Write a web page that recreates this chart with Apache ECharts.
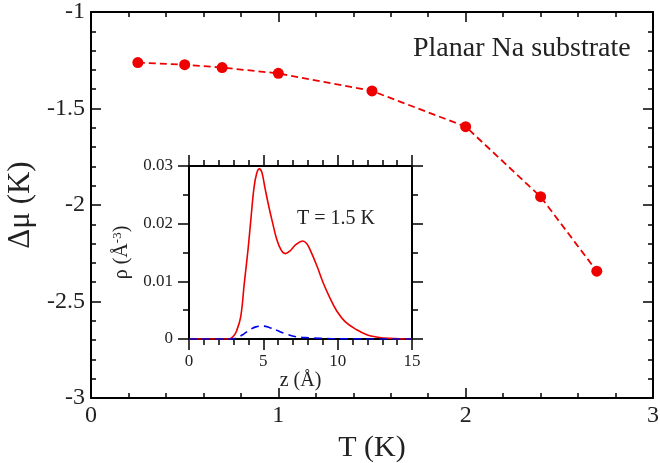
<!DOCTYPE html>
<html>
<head>
<meta charset="utf-8">
<script src="https://cdn.jsdelivr.net/npm/echarts@6/dist/echarts.min.js"></script>
<style>html,body{margin:0;padding:0;background:#fff}#c{width:660px;height:463px}</style>
</head>
<body>
<div id="c"></div>
<script>
// Main panel: chemical potential shift vs temperature
const temperatures = [0.25, 0.5, 0.7, 1.0, 1.5, 2.0, 2.4, 2.7];
const deltaMu = [-1.262, -1.273, -1.288, -1.318, -1.409, -1.594, -1.957, -2.343];

// Inset: density profiles at T = 1.5 K
const zRed = [0, 2.5, 2.8, 3.0, 3.2, 3.48, 3.72, 3.97, 4.15, 4.37, 4.55, 4.73, 4.9, 5.11, 5.35, 5.6, 5.9, 6.2, 6.48, 6.8, 7.2, 7.65, 7.9, 8.14, 8.6, 9.03, 9.5, 9.93, 10.5, 11.28, 12.0, 12.6, 13.5, 15];
const rhoRed = [0, 0, 0.0001, 0.0005, 0.0014, 0.0039, 0.0097, 0.0155, 0.0204, 0.0262, 0.0287, 0.0295, 0.0289, 0.0262, 0.0232, 0.0204, 0.0173, 0.0154, 0.0148, 0.0153, 0.0164, 0.0170, 0.0166, 0.0155, 0.0127, 0.0097, 0.0070, 0.0049, 0.0030, 0.0016, 0.0007, 0.00035, 0.0001, 0];
const zBlue = [0, 2.9, 3.3, 3.7, 4.1, 4.5, 4.95, 5.4, 5.9, 6.5, 7.2, 8.1, 9.0, 10.0, 15];
const rhoBlue = [0, 0, 0.0003, 0.0009, 0.0016, 0.0021, 0.00225, 0.0020, 0.0015, 0.0009, 0.0004, 0.0002, 0.0001, 0.00003, 0];

const mainXTicks = {min: 0, max: 3, interval: 1};
const mainYTicks = {min: -3, max: -1, interval: 0.5};
const insetXTicks = {min: 0, max: 15, interval: 5};
const insetYTicks = {min: 0, max: 0.03, interval: 0.01};

const serif = 'Liberation Serif';
const black = '#000';
const ink = '#222';

function zip(a, b) { return a.map((v, i) => [v, b[i]]); }

function axisCommon(inside, major, minor, splits) {
  return {
    axisLine: {show: true, onZero: false, lineStyle: {color: black, width: 2}},
    axisTick: {show: true, inside: inside, length: major, lineStyle: {color: black, width: 1.5}},
    minorTick: {show: true, splitNumber: splits, length: minor, lineStyle: {color: black, width: 1.5}},
    splitLine: {show: false},
    minorSplitLine: {show: false}
  };
}

const chart = echarts.init(document.getElementById('c'), null, {renderer: 'canvas'});

const option = {
  animation: false,
  backgroundColor: '#fff',
  grid: [
    {left: 91, top: 12, right: 7, bottom: 65, containLabel: false, outerBoundsMode: 'none'},
    {left: 189, top: 166, right: 248, bottom: 124, containLabel: false, outerBoundsMode: 'none',
      show: true, backgroundColor: '#fff', borderWidth: 0, z: 5}
  ],
  xAxis: [
    Object.assign({type: 'value', gridIndex: 0, position: 'bottom', min: mainXTicks.min, max: mainXTicks.max, interval: mainXTicks.interval,
      name: 'T (K)', nameLocation: 'middle', nameGap: 29,
      nameTextStyle: {fontFamily: serif, fontSize: 30, color: ink},
      axisLabel: {fontFamily: serif, fontSize: 24, color: ink, margin: 6}}, axisCommon(true, 10, 5, 5)),
    Object.assign({type: 'value', gridIndex: 0, position: 'top', min: mainXTicks.min, max: mainXTicks.max, interval: mainXTicks.interval,
      axisLabel: {show: false}}, axisCommon(true, 10, 5, 5)),
    Object.assign({type: 'value', gridIndex: 1, position: 'bottom', min: insetXTicks.min, max: insetXTicks.max, interval: insetXTicks.interval,
      name: 'z (Å)', nameLocation: 'middle', nameGap: 28, z: 6,
      nameTextStyle: {fontFamily: serif, fontSize: 20, color: ink},
      axisLabel: {fontFamily: serif, fontSize: 17, color: ink, margin: 14}}, axisCommon(false, 11, 6, 5)),
    Object.assign({type: 'value', gridIndex: 1, position: 'top', min: insetXTicks.min, max: insetXTicks.max, interval: insetXTicks.interval, z: 6,
      axisLabel: {show: false}}, axisCommon(false, 11, 6, 5))
  ],
  yAxis: [
    Object.assign({type: 'value', gridIndex: 0, position: 'left', min: mainYTicks.min, max: mainYTicks.max, interval: mainYTicks.interval,
      name: 'Δμ (K)', nameLocation: 'middle', nameGap: 53,
      nameTextStyle: {fontFamily: serif, fontSize: 31, color: ink},
      axisLabel: {fontFamily: serif, fontSize: 24, color: ink, margin: 6}}, axisCommon(true, 10, 5, 5)),
    Object.assign({type: 'value', gridIndex: 0, position: 'right', min: mainYTicks.min, max: mainYTicks.max, interval: mainYTicks.interval,
      axisLabel: {show: false}}, axisCommon(true, 10, 5, 5)),
    Object.assign({type: 'value', gridIndex: 1, position: 'left', min: insetYTicks.min, max: insetYTicks.max, interval: insetYTicks.interval,
      name: '{a|ρ (Å}{s|-3}{a|)}', nameLocation: 'middle', nameGap: 56, z: 6,
      nameTextStyle: {fontFamily: serif, fontSize: 20, color: ink,
        rich: {a: {fontFamily: serif, fontSize: 20, color: ink, lineHeight: 22},
               s: {fontFamily: serif, fontSize: 13, color: ink, verticalAlign: 'top', lineHeight: 22, padding: [0, 0, 8, 0]}}},
      axisLabel: {fontFamily: serif, fontSize: 17, color: ink, margin: 16}}, axisCommon(false, 11, 6, 2)),
    Object.assign({type: 'value', gridIndex: 1, position: 'right', min: insetYTicks.min, max: insetYTicks.max, interval: insetYTicks.interval, z: 6,
      axisLabel: {show: false}}, axisCommon(false, 11, 6, 2))
  ],
  graphic: [
    {type: 'text', left: 413, top: 35, z: 100,
      style: {text: 'Planar Na substrate', font: '28px "Liberation Serif"', fill: ink}},
    {type: 'text', left: 297, top: 209, z: 100,
      style: {text: 'T = 1.5 K', font: '20px "Liberation Serif"', fill: ink}}
  ],
  series: [
    {type: 'line', xAxisIndex: 0, yAxisIndex: 0, data: zip(temperatures, deltaMu),
      symbol: 'circle', symbolSize: 11, itemStyle: {color: '#ee0000'},
      lineStyle: {color: '#ee0000', width: 1.8, type: [7, 4]}, z: 3},
    {type: 'line', xAxisIndex: 2, yAxisIndex: 2, data: zip(zRed, rhoRed), smooth: 0.4,
      symbol: 'none', lineStyle: {color: '#ee0000', width: 1.6}, z: 7},
    {type: 'line', xAxisIndex: 2, yAxisIndex: 2, data: zip(zBlue, rhoBlue), smooth: 0.4,
      symbol: 'none', lineStyle: {color: '#0000ee', width: 1.6, type: [8, 5]}, z: 7}
  ]
};
chart.setOption(option);
</script>
</body>
</html>
